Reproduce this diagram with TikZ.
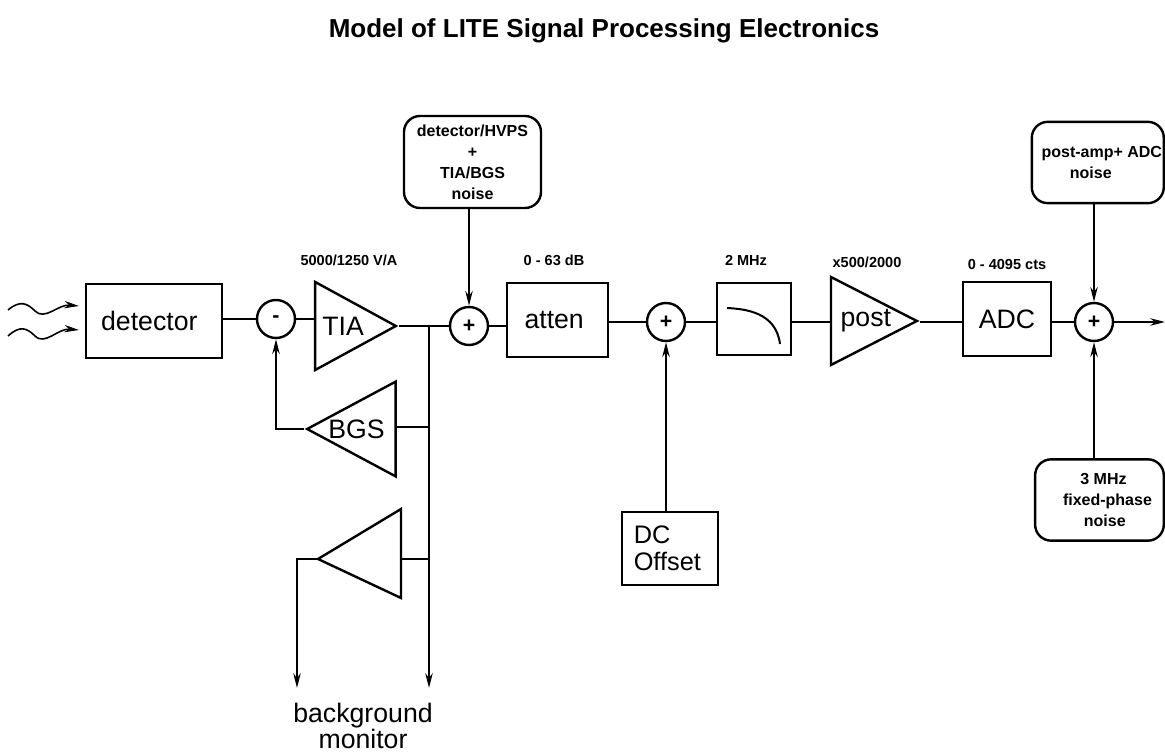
\documentclass[tikz,border=0pt]{standalone}
\usepackage{fontspec}
\setmainfont{Liberation Sans}
\usetikzlibrary{shapes.geometric,arrows.meta}
\tikzset{
	wire/.style={line width=1.8pt},
	feed/.style={wire,-{Stealth[length=11pt,width=5.5pt]}},
	block/.style={draw,line width=1.8pt,inner sep=0pt,font=\fontsize{20}{22}\selectfont},
	noise/.style={block,rounded corners=12pt,align=center,font=\bfseries\fontsize{12}{15.7}\selectfont},
	sum/.style={draw,circle,fill=white,line width=1.8pt,minimum size=28.5pt,inner sep=0pt,font=\bfseries\fontsize{16}{16}\selectfont},
	amp/.style={draw,line width=1.8pt,isosceles triangle,isosceles triangle stretches,inner sep=0pt,font=\fontsize{20}{22}\selectfont},
	gain/.style={font=\bfseries\fontsize{10.9}{12}\selectfont}
}
\begin{document}
\begin{tikzpicture}[x=0.75pt,y=-0.75pt]
	\useasboundingbox (0,0) rectangle (1165,752);
	\node[font=\bfseries\fontsize{19.5}{22}\selectfont] (title) at (604,31) {Model of LITE Signal Processing Electronics};
	% signal chain
	\node[block,minimum width=102pt,minimum height=55.5pt] (detector) at (154,321) {\kern-7pt detector};
	\node[sum] (minus) at (276,319) {-};
	\node[amp,minimum width=66pt,minimum height=60.5pt,anchor=apex] (tia) at (399,326) {TIA};
	\node[sum] (plusa) at (469,326) {+};
	\node[block,minimum width=75.75pt,minimum height=55.5pt] (atten) at (557.5,320) {\kern-5pt\raisebox{-7pt}{atten}};
	\node[sum] (plusb) at (666,322) {+};
	\node[block,minimum width=55.5pt,minimum height=54pt] (filter) at (754,319) {};
	\node[amp,minimum width=66pt,minimum height=60.5pt,anchor=apex] (post) at (920,321) {\kern6pt post};
	\node[block,minimum width=66pt,minimum height=55.5pt] (adc) at (1007,319) {ADC};
	\node[sum] (plusc) at (1094,322) {+};
	\coordinate (out) at (1165,322);
	% feedback and monitor
	\node[amp,shape border rotate=180,minimum width=71pt,minimum height=65pt,anchor=apex] (bgs) at (304,429) {BGS\kern7pt};
	\coordinate (monapex) at (318,559);
	\coordinate (montop) at (401,509);
	\coordinate (monbot) at (401,598);
	\draw[wire,line join=miter] (monapex) -- (montop) -- (monbot) -- cycle;
	\coordinate (bus) at (429,326);
	\coordinate (busb) at (429,427);
	\coordinate (busc) at (429,559);
	\coordinate (busend) at (429,688);
	\coordinate (monend) at (297,688);
	\coordinate (mona) at (297,559);
	\node[font=\fontsize{20}{18}\selectfont,align=center,inner sep=0pt] (montext) at (363,726) {background\\monitor};
	% noise sources
	\node[noise,minimum width=102.75pt,minimum height=69pt] (hvps) at (472.5,162) {detector/HVPS\\+\\TIA/BGS\\noise};
	\node[block,font=\fontsize{19}{20}\selectfont,align=left,minimum width=72pt,minimum height=54.75pt] (dc) at (670,548.5) {\kern-4pt DC\\\kern-4pt Offset};
	\node[noise,minimum width=99pt,minimum height=61pt,anchor=east] (postnoise) at (1165,162.5) {\kern6pt post-amp+ ADC\\noise\kern10.5pt};
	\node[noise,minimum width=96.5pt,minimum height=61pt,anchor=east] (phase) at (1165,500) {\kern6pt 3 MHz\\\kern12pt fixed-phase\\\kern8pt noise};
	% gains
	\node[gain] (gaina) at (349,260) {5000/1250 V/A};
	\node[gain] (gainb) at (554,260) {0 - 63 dB};
	\node[gain] (gainc) at (746,260) {2 MHz};
	\node[gain] (gaind) at (867,262) {x500/2000};
	\node[gain] (gaine) at (1007,264) {0 - 4095 cts};
	% connectors
	\draw[wire] (detector.east |- minus) -- (minus);
	\draw[wire] (minus) -- (tia.west |- minus);
	\draw[wire] (tia.apex) -- (plusa);
	\draw[wire] (plusa) -- (plusa -| atten.west);
	\draw[wire] (atten.east |- plusb) -- (plusb);
	\draw[wire] (plusb) -- (plusb -| filter.west);
	\draw[wire] (plusb -| filter.east) -- (plusb -| post.west);
	\draw[wire] (post.apex |- plusc) -- (plusc -| adc.west);
	\draw[wire] (plusc -| adc.east) -- (plusc);
	\draw[feed] (plusc) -- (out);
	\draw[feed] (hvps.south -| plusa) -- (plusa);
	\draw[feed] (postnoise.south -| plusc) -- (plusc);
	\draw[feed] (phase.north -| plusc) -- (plusc);
	\draw[feed] (dc.north -| plusb) -- (plusb);
	\draw[feed] (bgs.apex) -| (minus);
	\draw[feed] (bus) -- (busend);
	\draw[wire] (busb) -- (busb -| bgs.east);
	\draw[wire] (busc) -- (busc -| montop);
	\draw[feed] (monapex) -- (mona) -- (monend);
	% filter curve
	\draw[wire,line width=1.5pt] (727,308) .. controls (745,309) and (776,312) .. (780,344);
	% incoming light
	\coordinate (lighta) at (79,306);
	\coordinate (lightb) at (79,330);
	\draw[feed,line width=1.2pt] (8,310) .. controls (20,300) and (27,303) .. (35,311) .. controls (45,321) and (58,304) .. (lighta);
	\draw[feed,line width=1.2pt] (8,336) .. controls (20,325) and (27,328) .. (35,336) .. controls (45,346) and (58,328) .. (lightb);
\end{tikzpicture}
\end{document}
